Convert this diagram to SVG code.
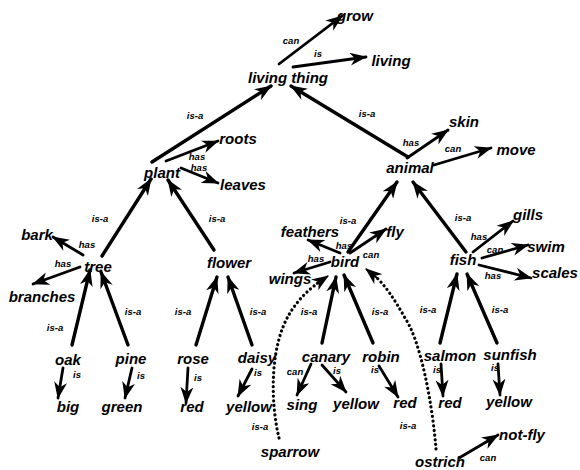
<svg xmlns="http://www.w3.org/2000/svg" width="580" height="470" viewBox="0 0 580 470">
<defs>
<marker id="ah" markerUnits="userSpaceOnUse" markerWidth="20" markerHeight="13" refX="16" refY="6.5" orient="auto">
<path d="M0,0 L17,6.5 L0,13 L5,6.5 Z" fill="#000"/>
</marker>
<style>
.n{font-family:"Liberation Sans",Arial,sans-serif;font-weight:bold;font-style:italic;font-size:15px;fill:#000;text-anchor:middle}
.l{font-family:"Liberation Sans",Arial,sans-serif;font-weight:bold;font-style:italic;font-size:9.5px;fill:#000;text-anchor:middle}
.e{stroke:#000;stroke-width:3.4;fill:none;marker-end:url(#ah);stroke-linecap:round}
.a{stroke:#000;stroke-width:2.8;fill:none;marker-end:url(#ah);stroke-linecap:round}
.d{stroke:#000;stroke-width:3.2;fill:none;stroke-dasharray:0.1 4.6;stroke-linecap:round}
</style>
</defs>
<rect width="580" height="470" fill="#fff"/>
<g id="connectors">
<line class="a" x1="279" y1="64" x2="342" y2="16"/><text class="l" x="291" y="44">can</text>
<line class="a" x1="293" y1="67" x2="366" y2="57"/><text class="l" x="318" y="57">is</text>
<line class="e" x1="152" y1="162" x2="271" y2="86"/><text class="l" x="195" y="119">is-a</text>
<line class="e" x1="408" y1="157" x2="291" y2="86"/><text class="l" x="367" y="117">is-a</text>
<line class="a" x1="166" y1="161" x2="218" y2="141"/><text class="l" x="197" y="160">has</text>
<line class="a" x1="181" y1="168" x2="218" y2="183"/><text class="l" x="199" y="171">has</text>
<line class="a" x1="407" y1="158" x2="448" y2="130"/><text class="l" x="411" y="146">has</text>
<line class="a" x1="434" y1="165" x2="491" y2="148"/><text class="l" x="453" y="152">can</text>
<line class="e" x1="102" y1="256" x2="151" y2="179"/><text class="l" x="100" y="222">is-a</text>
<line class="e" x1="214" y1="250" x2="168" y2="180"/><text class="l" x="217" y="222">is-a</text>
<line class="a" x1="83" y1="255" x2="53" y2="237"/><text class="l" x="87" y="248">has</text>
<line class="a" x1="80" y1="267" x2="33" y2="284"/><text class="l" x="63" y="267">has</text>
<line class="e" x1="348" y1="252" x2="397" y2="182"/><text class="l" x="348" y="224">is-a</text>
<line class="e" x1="466" y1="252" x2="413" y2="182"/><text class="l" x="463" y="221">is-a</text>
<line class="e" x1="196" y1="345" x2="217" y2="277"/><text class="l" x="183" y="315">is-a</text>
<line class="e" x1="252" y1="345" x2="228" y2="277"/><text class="l" x="258" y="315">is-a</text>
<line class="e" x1="72" y1="345" x2="90" y2="270"/><text class="l" x="55" y="331">is-a</text>
<line class="e" x1="128" y1="345" x2="101" y2="272"/><text class="l" x="133" y="315">is-a</text>
<line class="a" x1="340" y1="253" x2="308" y2="240"/><text class="l" x="344" y="249">has</text>
<line class="a" x1="350" y1="253" x2="386" y2="229"/><text class="l" x="371" y="258">can</text>
<line class="a" x1="330" y1="262" x2="294" y2="273"/><text class="l" x="316" y="262">has</text>
<line class="e" x1="322" y1="343" x2="336" y2="277"/><text class="l" x="309" y="315">is-a</text>
<line class="e" x1="373" y1="343" x2="344" y2="275"/><text class="l" x="380" y="315">is-a</text>
<path class="d" d="M279,438 C270,400 270,345 290,313 C298,300 308,290 318,283"/>
<line x1="316" y1="284" x2="328" y2="276" stroke="#000" stroke-width="2" marker-end="url(#ah)"/>
<text class="l" x="260" y="430">is-a</text>
<path class="d" d="M436,449 C432,400 420,340 405,318 C395,300 385,285 375,276"/>
<line x1="377" y1="278" x2="366" y2="269" stroke="#000" stroke-width="2" marker-end="url(#ah)"/>
<text class="l" x="408" y="429">is-a</text>
<line class="a" x1="473" y1="252" x2="513" y2="221"/><text class="l" x="479" y="240">has</text>
<line class="a" x1="482" y1="258" x2="528" y2="245"/><text class="l" x="495" y="253">can</text>
<line class="a" x1="479" y1="265" x2="531" y2="278"/><text class="l" x="493" y="279">has</text>
<line class="e" x1="440" y1="343" x2="457" y2="274"/><text class="l" x="428" y="313">is-a</text>
<line class="e" x1="497" y1="343" x2="467" y2="274"/><text class="l" x="500" y="313">is-a</text>
<line class="a" x1="63" y1="368" x2="58" y2="398"/><text class="l" x="77" y="378">is</text>
<line class="a" x1="132" y1="368" x2="125" y2="398"/><text class="l" x="141" y="379">is</text>
<line class="a" x1="188" y1="368" x2="186" y2="403"/><text class="l" x="198" y="381">is</text>
<line class="a" x1="252" y1="369" x2="238" y2="396"/><text class="l" x="258" y="376">is</text>
<line class="a" x1="311" y1="364" x2="297" y2="395"/><text class="l" x="295" y="375">can</text>
<line class="a" x1="322" y1="365" x2="346" y2="392"/><text class="l" x="337" y="374">is</text>
<line class="a" x1="379" y1="366" x2="398" y2="397"/><text class="l" x="375" y="373">is</text>
<line class="a" x1="441" y1="364" x2="443" y2="396"/><text class="l" x="437" y="373">is</text>
<line class="a" x1="498" y1="364" x2="500" y2="395"/><text class="l" x="495" y="371">is</text>
<line class="a" x1="459" y1="458" x2="498" y2="435"/><text class="l" x="488" y="461">can</text>
</g>
<g id="n-grow"><text class="n" x="355" y="21">grow</text></g>
<g id="n-living"><text class="n" x="391" y="66">living</text></g>
<g id="n-living-thing"><text class="n" x="288" y="83">living thing</text></g>
<g id="n-plant"><text class="n" x="162" y="178">plant</text></g>
<g id="n-roots"><text class="n" x="238" y="144">roots</text></g>
<g id="n-leaves"><text class="n" x="243" y="190">leaves</text></g>
<g id="n-animal"><text class="n" x="410" y="173">animal</text></g>
<g id="n-skin"><text class="n" x="464" y="127">skin</text></g>
<g id="n-move"><text class="n" x="516" y="155">move</text></g>
<g id="n-tree"><text class="n" x="98" y="272">tree</text></g>
<g id="n-bark"><text class="n" x="37" y="240">bark</text></g>
<g id="n-branches"><text class="n" x="42" y="302">branches</text></g>
<g id="n-flower"><text class="n" x="229" y="268">flower</text></g>
<g id="n-bird"><text class="n" x="345" y="267">bird</text></g>
<g id="n-feathers"><text class="n" x="310" y="237">feathers</text></g>
<g id="n-fly"><text class="n" x="395" y="237">fly</text></g>
<g id="n-wings"><text class="n" x="290" y="284">wings</text></g>
<g id="n-fish"><text class="n" x="463" y="265">fish</text></g>
<g id="n-gills"><text class="n" x="528" y="220">gills</text></g>
<g id="n-swim"><text class="n" x="546" y="252">swim</text></g>
<g id="n-scales"><text class="n" x="555" y="278">scales</text></g>
<g id="n-oak"><text class="n" x="68" y="365">oak</text></g>
<g id="n-big"><text class="n" x="68" y="412">big</text></g>
<g id="n-pine"><text class="n" x="131" y="364">pine</text></g>
<g id="n-green"><text class="n" x="122" y="412">green</text></g>
<g id="n-rose"><text class="n" x="193" y="364">rose</text></g>
<g id="n-red1"><text class="n" x="192" y="412">red</text></g>
<g id="n-daisy"><text class="n" x="257" y="363">daisy</text></g>
<g id="n-yellow1"><text class="n" x="249" y="412">yellow</text></g>
<g id="n-canary"><text class="n" x="326" y="362">canary</text></g>
<g id="n-robin"><text class="n" x="381" y="362">robin</text></g>
<g id="n-salmon"><text class="n" x="450" y="361">salmon</text></g>
<g id="n-sunfish"><text class="n" x="510" y="360">sunfish</text></g>
<g id="n-sing"><text class="n" x="302" y="410">sing</text></g>
<g id="n-yellow2"><text class="n" x="356" y="409">yellow</text></g>
<g id="n-red2"><text class="n" x="405" y="408">red</text></g>
<g id="n-red3"><text class="n" x="450" y="408">red</text></g>
<g id="n-yellow3"><text class="n" x="509" y="407">yellow</text></g>
<g id="n-sparrow"><text class="n" x="290" y="457">sparrow</text></g>
<g id="n-ostrich"><text class="n" x="440" y="467">ostrich</text></g>
<g id="n-not-fly"><text class="n" x="522" y="440">not-fly</text></g>
</svg>
